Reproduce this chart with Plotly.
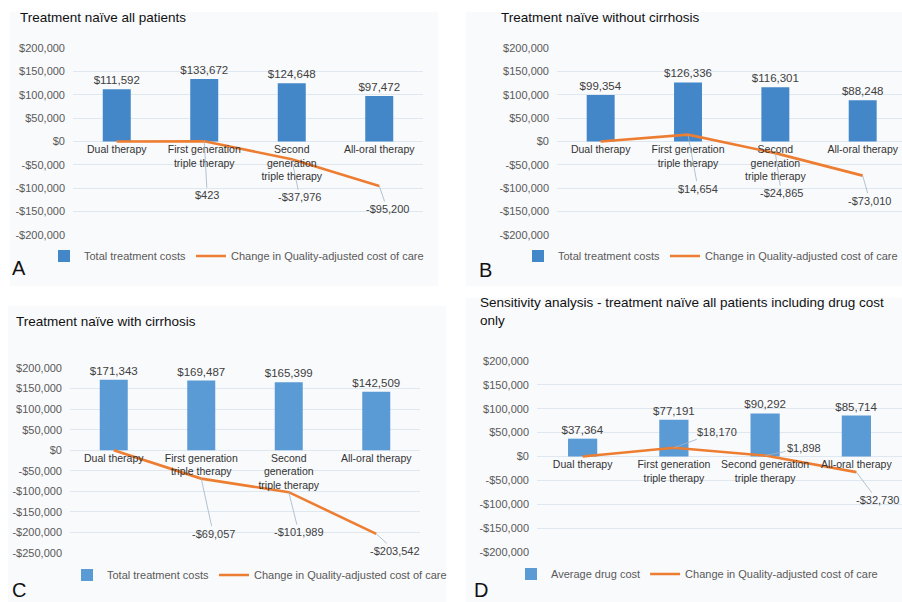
import plotly.graph_objects as go

# ---------------- data ----------------
categories = ["Dual therapy", "First generation triple therapy",
              "Second generation triple therapy", "All-oral therapy"]
tick_labels_abc = ["Dual therapy", "First generation<br>triple therapy",
                   "Second<br>generation<br>triple therapy", "All-oral therapy"]
tick_labels_d = ["Dual therapy", "First generation<br>triple therapy",
                 "Second generation<br>triple therapy", "All-oral therapy"]

cost_a = [111592, 133672, 124648, 97472]
change_a = [0, 423, -37976, -95200]
cost_b = [99354, 126336, 116301, 88248]
change_b = [0, 14654, -24865, -73010]
cost_c = [171343, 169487, 165399, 142509]
change_c = [0, -69057, -101989, -203542]
cost_d = [37364, 77191, 90292, 85714]
change_d = [0, 18170, 1898, -32730]

ytick_vals_abd = [200000, 150000, 100000, 50000, 0, -50000, -100000, -150000, -200000]
ytick_vals_c = [200000, 150000, 100000, 50000, 0, -50000, -100000, -150000, -200000, -250000]

titles = ["Treatment naïve all patients", "Treatment naïve without cirrhosis",
          "Treatment naïve with cirrhosis",
          "Sensitivity analysis - treatment naïve all patients including drug cost<br>only"]
bar_names = ["Total treatment costs", "Total treatment costs",
             "Total treatment costs", "Average drug cost"]
line_name = "Change in Quality-adjusted cost of care"
letters = ["A", "B", "C", "D"]


def money(v):
    return ("-$" if v < 0 else "$") + f"{abs(v):,}"


# ---------------- layout helpers ----------------
W, H = 902, 602


def fx(px):
    return px / W


def fy(py):
    return 1 - py / H


panels = [
    dict(cost=cost_a, change=change_a, ticks=tick_labels_abc, yt=ytick_vals_abd,
         xpx=(73, 423), xr=(-0.5, 3.5), ypx=(235, 48), yr=(-200000, 200000),
         bar_color="#4387c9", title_xy=(18, 18), letter_xy=(10, 268),
         legend_xy=(44, 256), offs=[(3, 54), (8, 38), (8, 23)]),
    dict(cost=cost_b, change=change_b, ticks=tick_labels_abc, yt=ytick_vals_abd,
         xpx=(557, 902), xr=(-0.5, 3.45), ypx=(235, 48), yr=(-200000, 200000),
         bar_color="#4387c9", title_xy=(499, 18), letter_xy=(477, 270),
         legend_xy=(518, 256), offs=[(10, 54), (6, 40), (7, 25)]),
    dict(cost=cost_c, change=change_c, ticks=tick_labels_abc, yt=ytick_vals_c,
         xpx=(70, 420), xr=(-0.5, 3.5), ypx=(553, 368), yr=(-250000, 200000),
         bar_color="#5a9ad5", title_xy=(14, 322), letter_xy=(10, 590),
         legend_xy=(67, 575), offs=[(12, 55), (10, 40), (19, 17)]),
    dict(cost=cost_d, change=change_d, ticks=tick_labels_d, yt=ytick_vals_abd,
         xpx=(537, 902), xr=(-0.5, 3.5), ypx=(552, 361), yr=(-200000, 200000),
         bar_color="#5a9ad5", title_xy=(478, 311), letter_xy=(472, 590),
         legend_xy=(511, 574), offs=[(43, -16), (39, -8), (21, 28)]),
]

FONT = "Liberation Sans, Arial, sans-serif"
GRID = "#dfe7f0"

fig = go.Figure()
layout = dict(
    width=W, height=H, margin=dict(l=0, r=0, t=0, b=0, autoexpand=False),
    paper_bgcolor="white", plot_bgcolor="rgba(0,0,0,0)",
    font=dict(family=FONT, size=11, color="#595959"),
    barmode="overlay", bargap=0.68,
)
annotations = []
shapes = []

bg_boxes = [(10, 12, 438, 286), (466, 12, 902, 286), (8, 306, 446, 602), (466, 298, 902, 602)]
for (x0, y0, x1, y1) in bg_boxes:
    shapes.append(dict(type="rect", xref="paper", yref="paper", x0=fx(x0), x1=fx(x1),
                       y0=fy(y1), y1=fy(y0), fillcolor="#f9fafc", line=dict(width=0),
                       layer="below"))

for i, p in enumerate(panels):
    n = "" if i == 0 else str(i + 1)
    xa, ya = "x" + n, "y" + n
    lg = "legend" + n
    ydom = (fy(p["ypx"][0]), fy(p["ypx"][1]))
    zero_pos = ydom[0] + (0 - p["yr"][0]) / (p["yr"][1] - p["yr"][0]) * (ydom[1] - ydom[0])

    fig.add_trace(go.Bar(
        x=categories, y=p["cost"], name=bar_names[i], xaxis=xa, yaxis=ya,
        marker=dict(color=p["bar_color"], line=dict(width=0)),
        text=[money(v) for v in p["cost"]], textposition="outside",
        constraintext="none", textangle=0,
        textfont=dict(size=11.5, color="#404040", family=FONT), cliponaxis=False,
        legend=lg, hoverinfo="skip"))
    fig.add_trace(go.Scatter(
        x=categories, y=p["change"], name=line_name, mode="lines", xaxis=xa, yaxis=ya,
        line=dict(color="#ED7D31", width=2.6), legend=lg, cliponaxis=False,
        hoverinfo="skip"))

    layout["xaxis" + n] = dict(
        domain=[fx(p["xpx"][0]), fx(p["xpx"][1])], range=list(p["xr"]),
        anchor="free", position=zero_pos, type="category",
        tickvals=categories, ticktext=p["ticks"], showline=False, ticks="",
        showgrid=False, zeroline=False,
        tickfont=dict(size=10.5, color="#333333", family=FONT))
    layout["yaxis" + n] = dict(
        domain=list(ydom), range=list(p["yr"]), anchor=xa,
        tickvals=p["yt"], ticktext=[money(v) for v in p["yt"]],
        showgrid=True, gridcolor=GRID, gridwidth=1, zeroline=True,
        zerolinecolor=GRID, zerolinewidth=1, showline=False, ticks="",
        ticklabelstandoff=7,
        tickfont=dict(size=11, color="#595959", family=FONT))
    layout[lg] = dict(
        orientation="h", x=fx(p["legend_xy"][0]), y=fy(p["legend_xy"][1]),
        xanchor="left", yanchor="middle", bgcolor="rgba(0,0,0,0)",
        font=dict(size=11, color="#595959", family=FONT), itemwidth=30,
        traceorder="normal")

    # titles and panel letters
    annotations.append(dict(
        text=titles[i], xref="paper", yref="paper", x=fx(p["title_xy"][0]),
        y=fy(p["title_xy"][1]), xanchor="left", yanchor="middle", showarrow=False,
        align="left", font=dict(size=13.5, color="#111111", family=FONT)))
    annotations.append(dict(
        text=letters[i], xref="paper", yref="paper", x=fx(p["letter_xy"][0]),
        y=fy(p["letter_xy"][1]), xanchor="left", yanchor="middle", showarrow=False,
        font=dict(size=20, color="#111111", family=FONT)))

    # line data labels with leader lines
    for k, (ax, ay) in zip(range(1, 4), p["offs"]):
        annotations.append(dict(
            x=categories[k], y=p["change"][k], xref=xa, yref=ya,
            text=money(p["change"][k]), showarrow=True, arrowhead=0,
            arrowwidth=0.8, arrowcolor="#9fb4c8", ax=ax, ay=ay, standoff=0,
            font=dict(size=11, color="#404040", family=FONT)))

layout["annotations"] = annotations
layout["shapes"] = shapes
fig.update_layout(**layout)
fig.write_html("out.html")
